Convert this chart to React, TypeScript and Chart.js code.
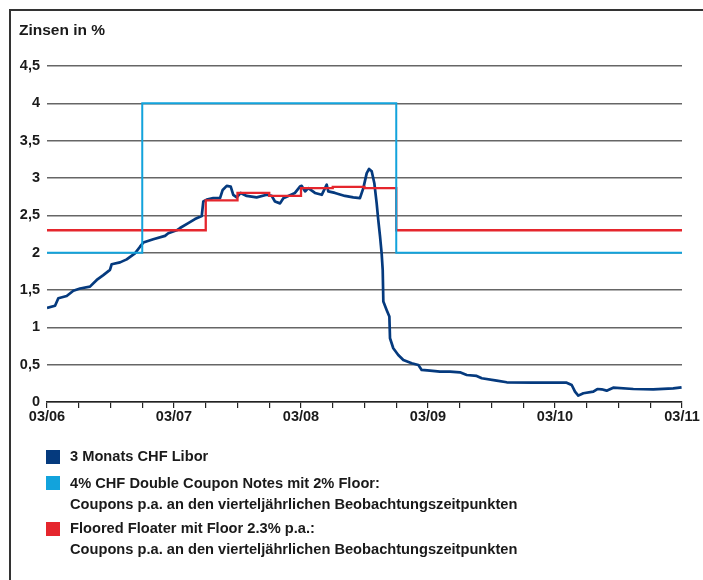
import React, { useEffect, useRef } from "react";
import { Chart, registerables } from "chart.js";

Chart.register(...registerables);

// x values are months since 03/2006
const xTickLabels = ["03/06", "03/07", "03/08", "03/09", "03/10", "03/11"];

const liborMonths = [
  0, 0.76, 1.07, 1.86, 2.49, 3.12, 4.06, 4.7, 5.32, 5.95, 6.11, 6.9, 7.53, 8.31, 8.79, 9.1, 10.04, 11.15, 11.46,
  12.25, 12.57, 13.35, 13.98, 14.62, 14.77, 15.09, 15.71, 16.35, 16.6, 16.98, 17.36, 17.6, 17.93, 18.3, 18.87,
  19.81, 20.76, 21.23, 21.54, 22.02, 22.33, 22.8, 23.43, 23.9, 24.07, 24.38, 24.69, 25.32, 25.96, 26.43, 26.58,
  27.21, 28.16, 28.94, 29.57, 29.89, 30.21, 30.43, 30.68, 30.93, 31.15, 31.3, 31.47, 31.62, 31.72, 31.78, 32.1,
  32.35, 32.41, 32.72, 33.19, 33.67, 34.46, 35.09, 35.4, 36.19, 37.13, 38.08, 39.02, 39.66, 40.6, 41.08, 42.49,
  43.44, 45.95, 49.1, 49.58, 49.89, 50.2, 50.68, 51.62, 52.0, 52.41, 52.88, 53.5, 55.4, 57.28, 59.17, 59.96,
];
const liborValues = [
  1.26, 1.29, 1.39, 1.42, 1.49, 1.52, 1.545, 1.635, 1.7, 1.77, 1.845, 1.87, 1.91, 1.99, 2.08, 2.135, 2.18, 2.225, 2.26,
  2.3, 2.33, 2.395, 2.45, 2.49, 2.685, 2.71, 2.73, 2.73, 2.84, 2.895, 2.885, 2.775, 2.74, 2.8, 2.76,
  2.74, 2.775, 2.76, 2.685, 2.66, 2.73, 2.76, 2.8, 2.885, 2.895, 2.82, 2.865, 2.8, 2.775, 2.91, 2.82,
  2.8, 2.76, 2.74, 2.73, 2.865, 3.065, 3.12, 3.09, 2.93, 2.66, 2.44, 2.215, 1.99, 1.77, 1.345, 1.23,
  1.145, 0.854, 0.72, 0.63, 0.563, 0.519, 0.496, 0.43, 0.42, 0.406, 0.406, 0.397, 0.362, 0.349, 0.318, 0.286,
  0.264, 0.259, 0.259, 0.228, 0.138, 0.085, 0.117, 0.138, 0.174, 0.17, 0.152, 0.192, 0.174, 0.17, 0.183, 0.197,
];

const dcnMonths = [0, 9, 33, 60];
const dcnValues = [2, 4, 2, 2];

const ffMonths = [0, 15, 18, 21, 24, 27, 30, 33, 60];
const ffValues = [2.3, 2.7, 2.8, 2.76, 2.865, 2.88, 2.865, 2.3, 2.3];

const seriesNames = [
  ["3 Monats CHF Libor"],
  ["4% CHF Double Coupon Notes mit 2% Floor:", "Coupons p.a. an den vierteljährlichen Beobachtungszeitpunkten"],
  ["Floored Floater mit Floor 2.3% p.a.:", "Coupons p.a. an den vierteljährlichen Beobachtungszeitpunkten"],
];

const NAVY = "#053a7e";
const CYAN = "#12a3dc";
const RED = "#e5262d";
const FONT = "'Liberation Sans', Arial, Helvetica, sans-serif";
const TXT = "#1a1a1a";

export default function App() {
  const ref = useRef<HTMLCanvasElement | null>(null);

  useEffect(() => {
    if (!ref.current) return;
    const toPts = (xs: number[], ys: number[]) => xs.map((x, i) => ({ x, y: ys[i] }));
    const chart = new Chart(ref.current, {
      type: "line",
      data: {
        datasets: [
          {
            label: seriesNames[1][0],
            data: toPts(dcnMonths, dcnValues),
            borderColor: CYAN,
            borderWidth: 2,
            stepped: "before",
            pointRadius: 0,
          },
          {
            label: seriesNames[2][0],
            data: toPts(ffMonths, ffValues),
            borderColor: RED,
            borderWidth: 2.3,
            stepped: "before",
            pointRadius: 0,
          },
          {
            label: seriesNames[0][0],
            data: toPts(liborMonths, liborValues),
            borderColor: NAVY,
            borderWidth: 2.7,
            tension: 0,
            pointRadius: 0,
            borderJoinStyle: "round",
          },
        ],
      },
      options: {
        animation: false,
        responsive: false,
        devicePixelRatio: 1,
        layout: { padding: { top: 66, left: 0, right: 21, bottom: 148 } },
        plugins: { legend: { display: false }, tooltip: { enabled: false }, title: { display: false } },
        scales: {
          x: {
            type: "linear",
            min: 0,
            max: 60,
            afterFit: (s: any) => {
              s.height = 30;
            },
            border: { display: true, color: "#222", width: 1.5 },
            grid: { display: true, drawOnChartArea: false, drawTicks: true, tickLength: 6, color: "#222", lineWidth: 1.2 },
            ticks: {
              stepSize: 3,
              autoSkip: false,
              maxRotation: 0,
              padding: 0,
              color: TXT,
              font: { family: FONT, size: 14.5, weight: "bold" },
              callback: (v: any) => (Number(v) % 12 === 0 ? xTickLabels[Number(v) / 12] : ""),
            },
          },
          y: {
            min: 0,
            max: 4.5,
            afterFit: (s: any) => {
              s.width = 47;
            },
            border: { display: false },
            grid: { color: "#666", lineWidth: 1.5, drawTicks: false },
            ticks: {
              stepSize: 0.5,
              padding: 7,
              color: TXT,
              font: { family: FONT, size: 14.5, weight: "bold" },
              callback: (v: any) => String(v).replace(".", ","),
            },
          },
        },
      },
    });
    return () => chart.destroy();
  }, []);

  const legendTops = [446, 473, 518];
  const squareTops = [450, 476, 522];
  const colors = [NAVY, CYAN, RED];

  return (
    <div style={{ position: "absolute", left: 0, top: 0, width: 703, height: 580, background: "#fff", overflow: "hidden" }}>
      <div
        style={{
          position: "absolute",
          left: 9,
          top: 9,
          right: 0,
          bottom: 0,
          borderTop: "2px solid #333",
          borderLeft: "2px solid #333",
        }}
      />
      <canvas ref={ref} width={703} height={580} style={{ position: "absolute", left: 0, top: 0 }} />
      <div
        style={{
          position: "absolute",
          left: 19,
          top: 21,
          font: `bold 15.5px ${FONT}`,
          lineHeight: "18px",
          color: TXT,
          whiteSpace: "nowrap",
        }}
      >
        Zinsen in %
      </div>
      {seriesNames.map((lines, i) => (
        <React.Fragment key={i}>
          <div
            style={{
              position: "absolute",
              left: 46,
              top: squareTops[i],
              width: 14,
              height: 14,
              background: colors[i],
            }}
          />
          <div
            style={{
              position: "absolute",
              left: 70,
              top: legendTops[i],
              font: `bold 14.65px ${FONT}`,
              lineHeight: "21px",
              color: TXT,
              whiteSpace: "nowrap",
            }}
          >
            {lines.map((l, j) => (
              <div key={j}>{l}</div>
            ))}
          </div>
        </React.Fragment>
      ))}
    </div>
  );
}
